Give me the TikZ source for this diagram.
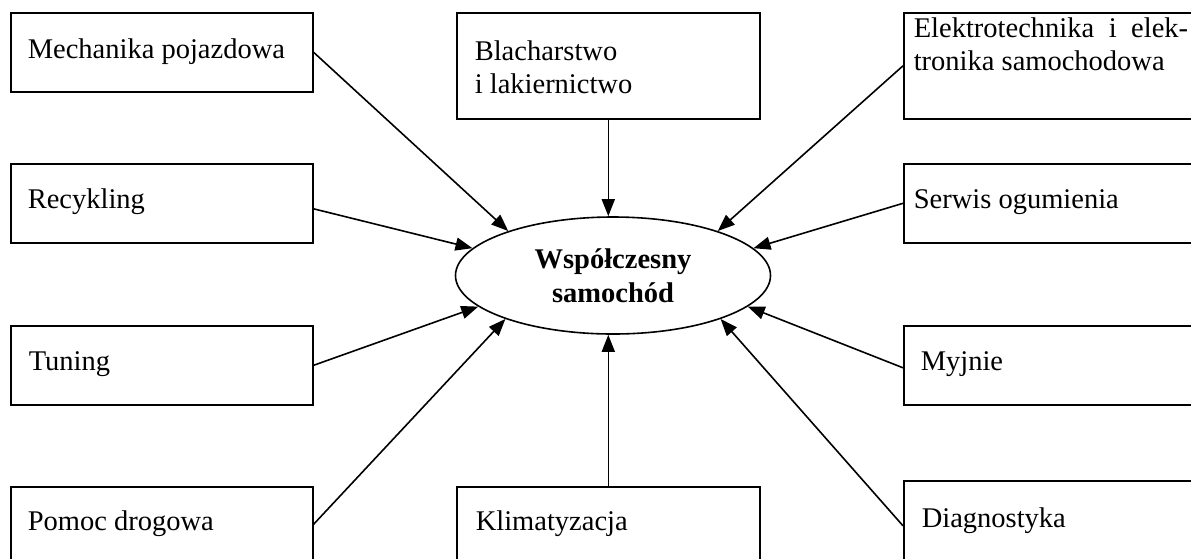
\documentclass[tikz,border=0pt]{standalone}
\usepackage{fontspec}
\setmainfont{Liberation Serif}
\usetikzlibrary{arrows.meta,shapes.geometric}
\begin{document}
\begin{tikzpicture}[x=1pt,y=-1pt, line width=1.6pt,
  box/.style={draw, rectangle, minimum width=302pt, minimum height=79pt, inner sep=0pt, anchor=north west},
  tallbox/.style={box, minimum height=106pt},
  txt/.style={anchor=base west, inner sep=0pt, font=\fontsize{28.5}{33}\selectfont},
  conn/.style={-{Triangle[length=17pt,width=13pt]}, line width=1.6pt}]
\useasboundingbox (0,0) rectangle (1191,558);
\clip (0,0) rectangle (1191,558);
% central ellipse
\node[ellipse, draw, minimum width=315pt, minimum height=117pt, inner sep=0pt, align=center,
  font=\bfseries\fontsize{28.5}{34}\selectfont] (ell) at (613,275.5) {Współczesny\\samochód};
% boxes
\node[box] (mech) at (10,12) {};
\node[tallbox, minimum width=303pt] (blach) at (456,12) {};
\node[tallbox, minimum width=320pt] (elek) at (903,12) {};
\node[box] (rec) at (10,163) {};
\node[box, minimum width=320pt] (serw) at (903,163) {};
\node[box] (tun) at (10,325) {};
\node[box, minimum width=320pt] (myj) at (903,325) {};
\node[box] (pom) at (10,486) {};
\node[box, minimum width=303pt] (klim) at (456,486) {};
\node[box, minimum width=320pt] (diag) at (903,480) {};
% texts
\node[txt] (tmech) at (27,58) {Mechanika pojazdowa};
\node[txt] (tblach1) at (474,60) {Blacharstwo};
\node[txt] (tblach2) at (474,93) {i lakiernictwo};
\node[txt] (telek1) at (913,37) {Elektrotechnika\hspace{0.51em}i\hspace{0.51em}elek-};
\node[txt] (telek2) at (913,70) {tronika samochodowa};
\node[txt] (trec) at (27,208) {Recykling};
\node[txt] (tserw) at (913,208) {Serwis ogumienia};
\node[txt] (ttun) at (28,370) {Tuning};
\node[txt] (tmyj) at (920,370) {Myjnie};
\node[txt] (tpom) at (27,530) {Pomoc drogowa};
\node[txt] (tklim) at (475,530) {Klimatyzacja};
\node[txt] (tdiag) at (921,527) {Diagnostyka};
% connectors
\draw[conn] (mech.east) -- (ell.157);
\draw[conn] (blach.south) -- (blach.south |- ell.north);
\draw[conn] (elek.west) -- (ell.23);
\draw[conn] ([yshift=-5.5pt]rec.east) -- (ell.169);
\draw[conn] (serw.west) -- (ell.11);
\draw[conn] (tun.east) -- (ell.193);
\draw[conn] ([yshift=-2.5pt]myj.west) -- (ell.347);
\draw[conn] ([yshift=2pt]pom.east) -- (ell.202);
\draw[conn] (klim.north) -- (klim.north |- ell.south);
\draw[conn] ([yshift=-5.5pt]diag.west) -- (ell.338);
\end{tikzpicture}
\end{document}
